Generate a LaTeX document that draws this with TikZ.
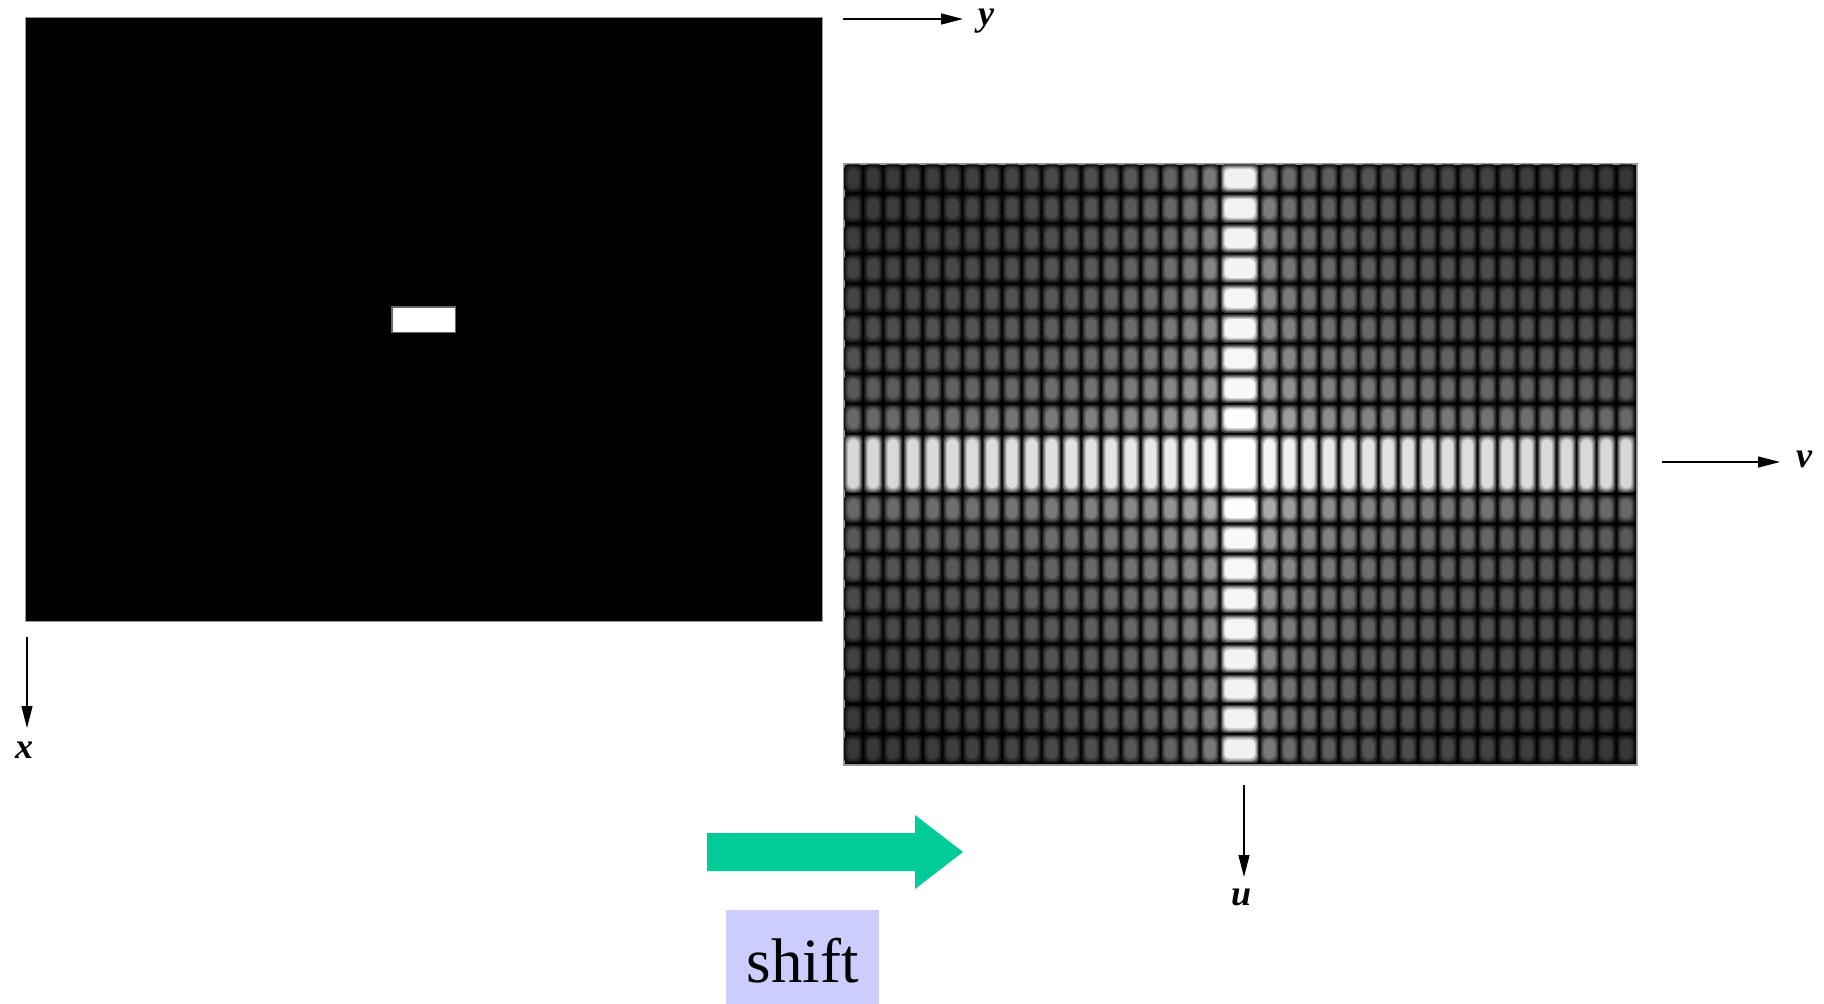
\documentclass[tikz,border=0pt]{standalone}
\usepackage{fontspec}
\setmainfont{Liberation Serif}
\usetikzlibrary{arrows.meta}
\definecolor{shiftgreen}{RGB}{0,204,153}
\definecolor{shiftbg}{RGB}{204,204,255}
\begin{document}
\begin{tikzpicture}[x=1pt,y=-1pt,
  axisarrow/.style={line width=1.3pt,-{Triangle[length=22pt,width=11pt]}},
  axislabel/.style={font=\fontsize{36}{40}\selectfont\bfseries\itshape, inner sep=0pt, anchor=base},
  imgframe/.style={draw=black!40, line width=1pt, fill=black, inner sep=0pt, anchor=north west}]
\useasboundingbox (0,0) rectangle (1824,1004);
% ---- spatial image ----
\node[imgframe, minimum width=796.4pt, minimum height=603.4pt] (spatial) at (25.3,17.3) {};
\fill[black!60] (391,306) rectangle (456,333);
\node[fill=white, inner sep=0pt, minimum width=62pt, minimum height=24pt] (box) at (423.5,319.5) {};
% ---- spectrum image ----
\node[imgframe, minimum width=792.5pt, minimum height=600.5pt] (spectrum) at (843.5,163.5) {};
\def\cx{1239.75}\def\cy{463.75}\def\px{19.8125}\def\py{30.025}
\begin{scope}
\clip (843.5,163.5) rectangle (1636,764);
\foreach \k in {-19,...,19}{
  \foreach \m in {-9,...,9}{
    \pgfmathsetmacro\wx{(\k==0) ? 2*\px : \px}
    \pgfmathsetmacro\wy{(\m==0) ? 2*\py : \py}
    \pgfmathsetmacro\xl{(\k==0) ? \cx-\px : ((\k>0) ? \cx+\k*\px : \cx+(\k-1)*\px)}
    \pgfmathsetmacro\yt{(\m==0) ? \cy-\py : ((\m>0) ? \cy+\m*\py : \cy+(\m-1)*\py)}
    \pgfmathsetmacro\la{ln(pi*(abs(\k)+0.5))}
    \pgfmathsetmacro\lb{ln(pi*(abs(\m)+0.5))}
    \pgfmathsetmacro\g{(\k==0) ? ((\m==0) ? 100 : min(100,103-2.5*\lb)) : ((\m==0) ? min(100,103-4.5*\la) : max(17,min(76,98-10.2*(\la+\lb))))}
    \foreach \f/\ix/\iy/\rc in {0.22/0.6/0.8/4, 0.45/1.6/2.0/5, 0.66/2.6/3.2/5, 0.84/3.6/4.4/5, 1/4.6/5.6/5}{
      \pgfmathsetmacro\gg{\f*\g}
      \fill[white!\gg!black, rounded corners=\rc pt] (\xl+\ix,\yt+\iy) rectangle (\xl+\wx-\ix,\yt+\wy-\iy);
    }
  }
}
\end{scope}
\draw[draw=black!40, line width=1pt] (spectrum.north west) rectangle (spectrum.south east);
% ---- axes ----
\coordinate (ys) at (843,19);  \coordinate (ye) at (963,19);
\coordinate (xs) at (27,637);  \coordinate (xe) at (27,728);
\coordinate (vs) at (1662,462); \coordinate (ve) at (1780,462);
\coordinate (us) at (1244,785); \coordinate (ue) at (1244,877);
\draw[axisarrow] (ys) -- (ye);
\draw[axisarrow] (xs) -- (xe);
\draw[axisarrow] (vs) -- (ve);
\draw[axisarrow] (us) -- (ue);
\node[axislabel] (ylab) at (986,25) {y};
\node[axislabel] (xlab) at (24,758) {x};
\node[axislabel] (vlab) at (1804,467) {v};
\node[axislabel] (ulab) at (1241,905) {u};
% ---- shift arrow and label ----
\fill[shiftgreen] (707,833) -- (915,833) -- (915,815) -- (963,852) -- (915,889) -- (915,871) -- (707,871) -- cycle;
\node[fill=shiftbg, inner sep=0pt, minimum width=153pt, minimum height=100pt, anchor=north west,
      font=\fontsize{63}{70}\selectfont] (shift) at (726,910) {shift};
\end{tikzpicture}
\end{document}
